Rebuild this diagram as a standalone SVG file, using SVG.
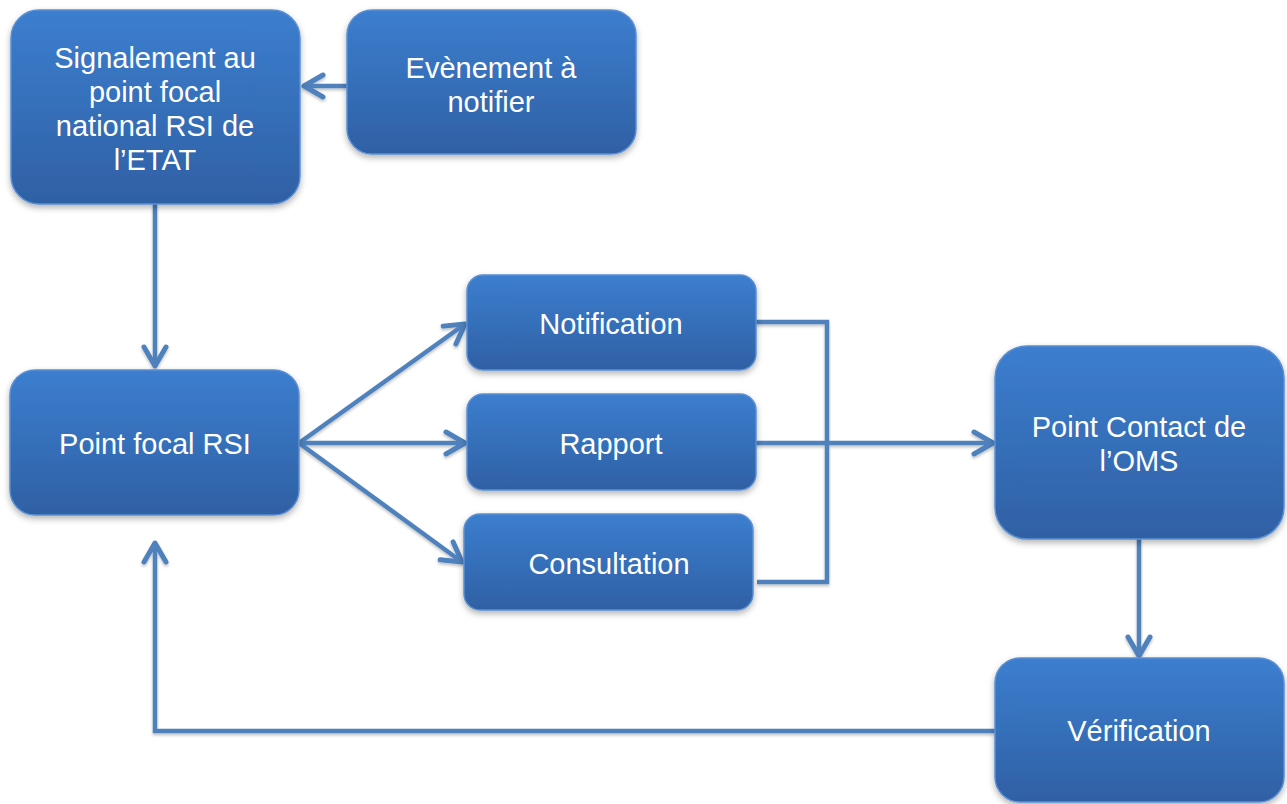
<svg xmlns="http://www.w3.org/2000/svg" width="1287" height="804" viewBox="0 0 1287 804">
<defs>
<linearGradient id="g" x1="0" y1="0" x2="0" y2="1">
<stop offset="0" stop-color="#3c7ecf"/>
<stop offset="1" stop-color="#2f60a4"/>
</linearGradient>
<filter id="sh" x="-10%" y="-10%" width="120%" height="130%">
<feDropShadow dx="0" dy="3" stdDeviation="3" flood-color="#000" flood-opacity="0.3"/>
</filter>
<filter id="lsh" filterUnits="userSpaceOnUse" x="0" y="0" width="1287" height="804">
<feDropShadow dx="0" dy="2" stdDeviation="1.5" flood-color="#000" flood-opacity="0.25"/>
</filter>
<marker id="ah" markerUnits="userSpaceOnUse" markerWidth="40" markerHeight="40" refX="0" refY="0" orient="auto" overflow="visible">
<path d="M -19 -11 L 0 0 L -19 11" fill="none" stroke="#4f81bd" stroke-width="5" stroke-linecap="round" stroke-linejoin="round"/>
</marker>
</defs>
<style>
.box{fill:url(#g);stroke:#5b8fd2;stroke-width:1.5;filter:url(#sh)}
.t{fill:#fff;font-family:"Liberation Sans",Arial,sans-serif;font-size:29px;text-anchor:middle}
.c{fill:none;stroke:#4f81bd;stroke-width:4.5}
.a{marker-end:url(#ah)}
</style>
<g id="connectors" filter="url(#lsh)">
<line class="c a" x1="347" y1="86" x2="304" y2="86"/>
<line class="c a" x1="155" y1="204" x2="155" y2="366"/>
<line class="c a" x1="299" y1="443" x2="465" y2="324"/>
<line class="c a" x1="299" y1="443" x2="465" y2="443"/>
<line class="c a" x1="299" y1="443" x2="462" y2="562"/>
<polyline class="c" points="756,322 827,322 827,582 757,582"/>
<line class="c a" x1="756" y1="443" x2="993" y2="443"/>
<line class="c a" x1="1139" y1="539" x2="1139" y2="656"/>
<polyline class="c a" points="995,731 155,731 155,543"/>
</g>
<g id="n-signalement">
<rect class="box" x="11" y="10" width="289" height="194" rx="28"/>
<text class="t" x="155" y="68">Signalement au</text>
<text class="t" x="155" y="102">point focal</text>
<text class="t" x="155" y="136">national RSI de</text>
<text class="t" x="155" y="170">l’ETAT</text>
</g>
<g id="n-evenement">
<rect class="box" x="347" y="10" width="289" height="144" rx="25"/>
<text class="t" x="491" y="78">Evènement à</text>
<text class="t" x="491" y="112">notifier</text>
</g>
<g id="n-pointfocal">
<rect class="box" x="10" y="370" width="289" height="145" rx="25"/>
<text class="t" x="155" y="454">Point focal RSI</text>
</g>
<g id="n-notification">
<rect class="box" x="467" y="275" width="289" height="95" rx="16"/>
<text class="t" x="611" y="334">Notification</text>
</g>
<g id="n-rapport">
<rect class="box" x="467" y="394" width="289" height="96" rx="16"/>
<text class="t" x="611" y="454">Rapport</text>
</g>
<g id="n-consultation">
<rect class="box" x="464" y="514" width="289" height="96" rx="16"/>
<text class="t" x="609" y="574">Consultation</text>
</g>
<g id="n-oms">
<rect class="box" x="995" y="346" width="289" height="193" rx="32"/>
<text class="t" x="1139" y="437">Point Contact de</text>
<text class="t" x="1139" y="471">l’OMS</text>
</g>
<g id="n-verification">
<rect class="box" x="995" y="658" width="289" height="144" rx="25"/>
<text class="t" x="1139" y="741">Vérification</text>
</g>
</svg>
